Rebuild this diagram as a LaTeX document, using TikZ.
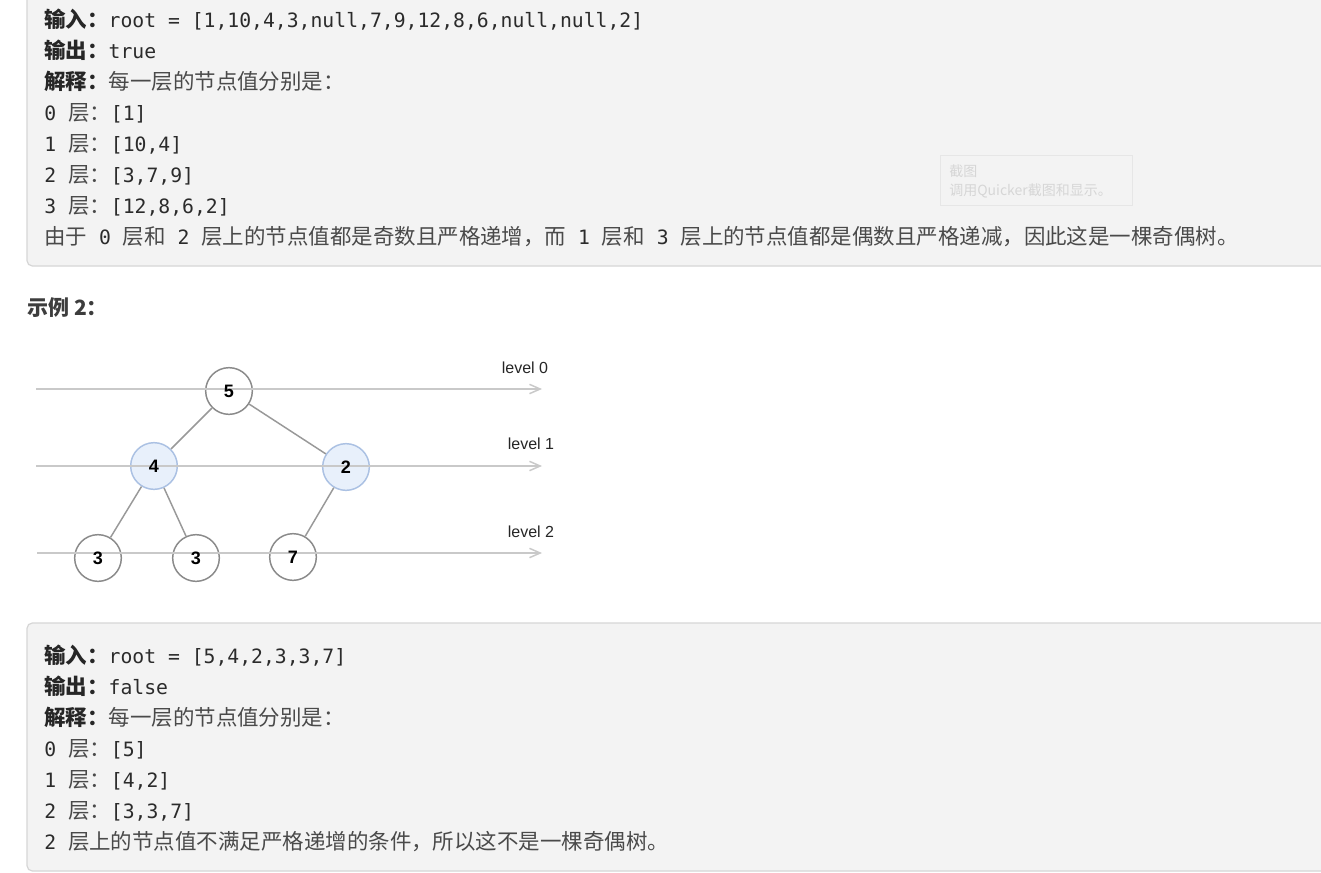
\documentclass[tikz,border=0pt]{standalone}
\usepackage{fontspec}
\setmainfont{Noto Sans CJK SC}
\newfontfamily\monof{DejaVu Sans Mono}
\newfontfamily\arialf{Liberation Sans}
\usetikzlibrary{arrows.meta}
\definecolor{boxbg}{HTML}{F3F3F3}
\definecolor{boxln}{HTML}{D6D6D6}
\definecolor{labc}{HTML}{262626}
\definecolor{codec}{HTML}{2B2B2B}
\definecolor{cjkc}{HTML}{4A4A4A}
\definecolor{headc}{HTML}{3D3D3D}
\definecolor{tipc}{HTML}{D6D6D6}
\definecolor{tipln}{HTML}{E6E6E6}
\definecolor{lvlline}{HTML}{C9C9C9}
\definecolor{edgec}{HTML}{999999}
\definecolor{circc}{HTML}{8A8A8A}
\definecolor{bluef}{HTML}{E8F0FB}
\definecolor{bluel}{HTML}{ABC1E3}
\newcommand\lbl[1]{{\bfseries\color{labc}#1}}
\newcommand\code[1]{{\monof\fontsize{14.8pt}{16pt}\selectfont\color{codec}#1}}
\tikzset{
  txt/.style={anchor=base west, inner sep=0pt, text=cjkc, font=\fontsize{16.1pt}{18pt}\selectfont},
  head/.style={anchor=base west, inner sep=0pt, text=headc, font=\fontsize{15.75pt}{18pt}\selectfont\bfseries},
  tip/.style={anchor=base west, inner sep=0pt, text=tipc, font=\fontsize{10.5pt}{12pt}\selectfont},
  tipbox/.style={draw=tipln, line width=0.6pt},
  boxst/.style={fill=boxbg, draw=boxln, line width=0.9pt, rounded corners=4pt},
  circ/.style={circle, minimum size=35pt, inner sep=0pt, draw=circc, line width=1.1pt, fill=white},
  bcirc/.style={circ, draw=bluel, fill=bluef},
  num/.style={inner sep=0pt, font=\arialf\fontsize{13.5pt}{15pt}\selectfont\bfseries, text=black},
  lvl/.style={inner sep=0pt, font=\arialf\fontsize{12pt}{14pt}\selectfont, text=black!85},
  lvlarrow/.style={draw=lvlline, line width=1.1pt, -{Straight Barb[length=8pt,width=7pt]}},
  edge/.style={draw=edgec, line width=1.1pt}
}
\begin{document}
\begin{tikzpicture}[x=0.75pt, y=-0.75pt]
\useasboundingbox (0,0) rectangle (1321,872);
\clip (0,0) rectangle (1321,872);
\fill[white] (0,0) rectangle (1321,872);

% ---------- top box ----------
\path[boxst] (27,-20) rectangle (1345,266);
\node[txt] (t1) at (44,27) {\lbl{输入：}\code{root = [1,10,4,3,null,7,9,12,8,6,null,null,2]}};
\node[txt] (t2) at (44,58) {\lbl{输出：}\code{true}};
\node[txt] (t3) at (44,89) {\lbl{解释：}每一层的节点值分别是：};
\node[txt] (t4) at (44,120) {\code{0\ }层：\code{[1]}};
\node[txt] (t5) at (44,151) {\code{1\ }层：\code{[10,4]}};
\node[txt] (t6) at (44,182) {\code{2\ }层：\code{[3,7,9]}};
\node[txt] (t7) at (44,213) {\code{3\ }层：\code{[12,8,6,2]}};
\node[txt] (t8) at (44,244) {由于\code{\ 0\ }层和\code{\ 2\ }层上的节点值都是奇数且严格递增，而\code{\ 1\ }层和\code{\ 3\ }层上的节点值都是偶数且严格递减，因此这是一棵奇偶树。};

% tooltip
\path[tipbox] (940,155) rectangle (1132,205);
\node[tip] (tp1) at (949,176) {截图};
\node[tip] (tp2) at (949,195) {调用Quicker截图和显示。};

% ---------- heading ----------
\node[head] (h2) at (27,315) {示例 2：};

% ---------- tree ----------
\node[circ]  (n5) at (229,391) {};
\node[bcirc] (n4) at (154,466) {};
\node[bcirc] (n2) at (346,467) {};
\node[circ]  (n3a) at (98,558) {};
\node[circ]  (n3b) at (196,558) {};
\node[circ]  (n7) at (293,557) {};

\coordinate (a0s) at (36,389);  \coordinate (a0e) at (542,389);
\coordinate (a1s) at (36,466);  \coordinate (a1e) at (542,466);
\coordinate (a2s) at (37,553);  \coordinate (a2e) at (542,553);
\draw[lvlarrow] (a0s) -- (a0e);
\draw[lvlarrow] (a1s) -- (a1e);
\draw[lvlarrow] (a2s) -- (a2e);

\draw[edge] (n5) -- (n4);
\draw[edge] (n5) -- (n2);
\draw[edge] (n4) -- (n3a);
\draw[edge] (n4) -- (n3b);
\draw[edge] (n2) -- (n7);

\node[num] (v5) at (n5) {5};
\node[num] (v4) at (n4) {4};
\node[num] (v2) at (n2) {2};
\node[num] (v3a) at (n3a) {3};
\node[num] (v3b) at (n3b) {3};
\node[num] (v7) at (n7) {7};

\node[lvl] (l0) at (525,368) {level 0};
\node[lvl] (l1) at (531,444) {level 1};
\node[lvl] (l2) at (531,532) {level 2};

% ---------- bottom box ----------
\path[boxst] (27,623) rectangle (1345,871);
\node[txt] (b1) at (44,663) {\lbl{输入：}\code{root = [5,4,2,3,3,7]}};
\node[txt] (b2) at (44,694) {\lbl{输出：}\code{false}};
\node[txt] (b3) at (44,725) {\lbl{解释：}每一层的节点值分别是：};
\node[txt] (b4) at (44,756) {\code{0\ }层：\code{[5]}};
\node[txt] (b5) at (44,787) {\code{1\ }层：\code{[4,2]}};
\node[txt] (b6) at (44,818) {\code{2\ }层：\code{[3,3,7]}};
\node[txt] (b7) at (44,849) {\code{2\ }层上的节点值不满足严格递增的条件，所以这不是一棵奇偶树。};
\end{tikzpicture}
\end{document}
